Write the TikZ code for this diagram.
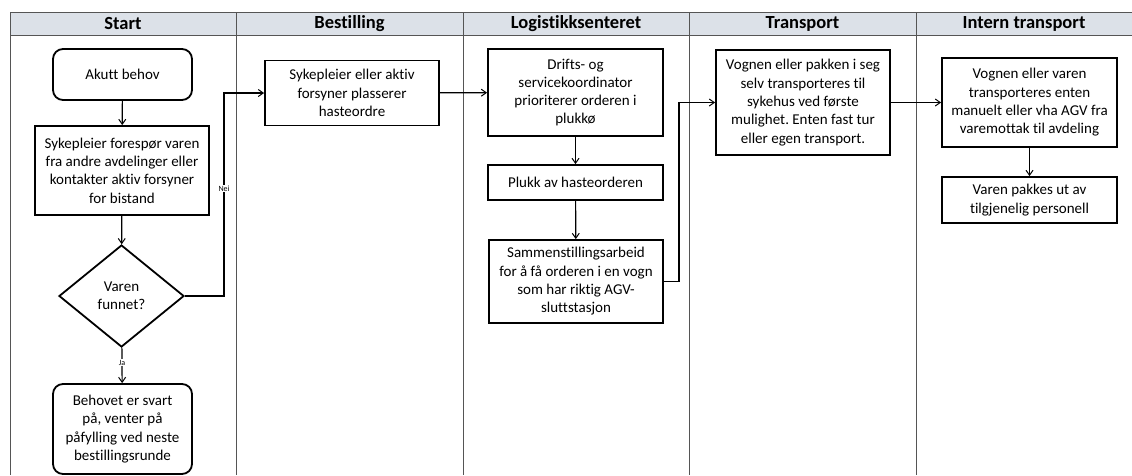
\documentclass[tikz,border=0pt]{standalone}
\usepackage{fontspec}
\setmainfont{Carlito}[Ligatures=NoCommon]
\frenchspacing
\usetikzlibrary{arrows.meta,shapes.geometric}
\definecolor{headfill}{HTML}{DCE1E8}
\definecolor{laneline}{HTML}{555555}
\tikzset{
  box/.style={draw=black, line width=1.8pt, align=center, inner sep=2pt,
    font=\fontsize{15}{18.3}\selectfont},
  stepbox/.style={box, rectangle},
  termbox/.style={box, rectangle, rounded corners=10pt},
  decision/.style={box, diamond, aspect=1.22, inner sep=0pt},
  flow/.style={draw=black, line width=1.2pt, -{Straight Barb[length=5pt,width=7pt,line width=1pt]}},
  lane/.style={draw=laneline, line width=0.9pt},
  lanehead/.style={font=\fontsize{18.5}{20}\selectfont\bfseries},
  edgelabel/.style={font=\fontsize{8}{9}\selectfont, fill=white, inner sep=1pt}
}
\begin{document}
\begin{tikzpicture}[x=1pt,y=-1pt]
\useasboundingbox (0,0) rectangle (1132,475);
% lane header band
\fill[headfill] (10,12) rectangle (1132,35);
\draw[lane] (10,12) -- (1132,12);
\draw[lane] (10,35) -- (1132,35);
\foreach \x in {10,236,463,689,916}{\draw[lane] (\x,12) -- (\x,475);}
\node[lanehead] (hStart) at (123,23.5) {Start};
\node[lanehead] (hBest) at (349.5,23.5) {Bestilling};
\node[lanehead] (hLog) at (576,23.5) {Logistikksenteret};
\node[lanehead] (hTrans) at (802.5,23.5) {Transport};
\node[lanehead] (hIntern) at (1024,23.5) {Intern transport};

% Start lane
\node[termbox, minimum width=139pt, minimum height=51pt] (akutt) at (122.5,74.5) {Akutt behov};
\node[stepbox, minimum width=174pt, minimum height=89pt] (foresp) at (122,170.5)
  {Sykepleier forespør varen\\fra andre avdelinger eller\\kontakter aktiv forsyner\\for bistand};
\node[decision, minimum width=125pt, minimum height=102pt] (funnet) at (121.5,296) {Varen\\funnet?};
\node[termbox, minimum width=139pt, minimum height=90pt] (besvart) at (122.5,429)
  {Behovet er svart\\på, venter på\\påfylling ved neste\\bestillingsrunde};

% Bestilling lane
\node[stepbox, minimum width=174pt, minimum height=65pt] (haste) at (352,93)
  {Sykepleier eller aktiv\\forsyner plasserer\\hasteordre};

% Logistikksenteret lane
\node[stepbox, minimum width=175pt, minimum height=87pt] (prior) at (575.5,92.5)
  {Drifts- og\\servicekoordinator\\prioriterer orderen i\\plukkø};
\node[stepbox, minimum width=175pt, minimum height=35pt] (plukk) at (575.5,182.5)
  {Plukk av hasteorderen};
\node[stepbox, minimum width=174pt, minimum height=83pt] (samm) at (576,281.5)
  {Sammenstillingsarbeid\\for å få orderen i en vogn\\som har riktig AGV-\\sluttstasjon};

% Transport lane
\node[stepbox, minimum width=174pt, minimum height=105pt] (vogn) at (803,102.5)
  {Vognen eller pakken i seg\\selv transporteres til\\sykehus ved første\\mulighet. Enten fast tur\\eller egen transport.};

% Intern transport lane
\node[stepbox, minimum width=175pt, minimum height=89pt] (intern) at (1029.5,102.5)
  {Vognen eller varen\\transporteres enten\\manuelt eller vha AGV fra\\varemottak til avdeling};
\node[stepbox, minimum width=175pt, minimum height=46pt] (utpakk) at (1029.5,200)
  {Varen pakkes ut av\\tilgjenelig personell};

% connectors
\coordinate (neiTurn) at (224,296);
\coordinate (sendTurn) at (679,281.5);
\draw[flow] (akutt) -- (foresp);
\draw[flow] (foresp) -- (funnet);
\draw[flow] (funnet) -- node[edgelabel, pos=0.42] {Ja} (besvart);
\draw[flow] (funnet.east) -- (neiTurn) -- node[edgelabel, pos=0.53] {Nei} (neiTurn |- haste.west) -- (haste.west);
\draw[flow] (haste) -- (prior);
\draw[flow] (prior) -- (plukk);
\draw[flow] (plukk) -- (samm);
\draw[flow] (samm.east) -- (sendTurn) -- (sendTurn |- vogn.west) -- (vogn.west);
\draw[flow] (vogn) -- (intern);
\draw[flow] (intern) -- (utpakk);
\end{tikzpicture}
\end{document}
